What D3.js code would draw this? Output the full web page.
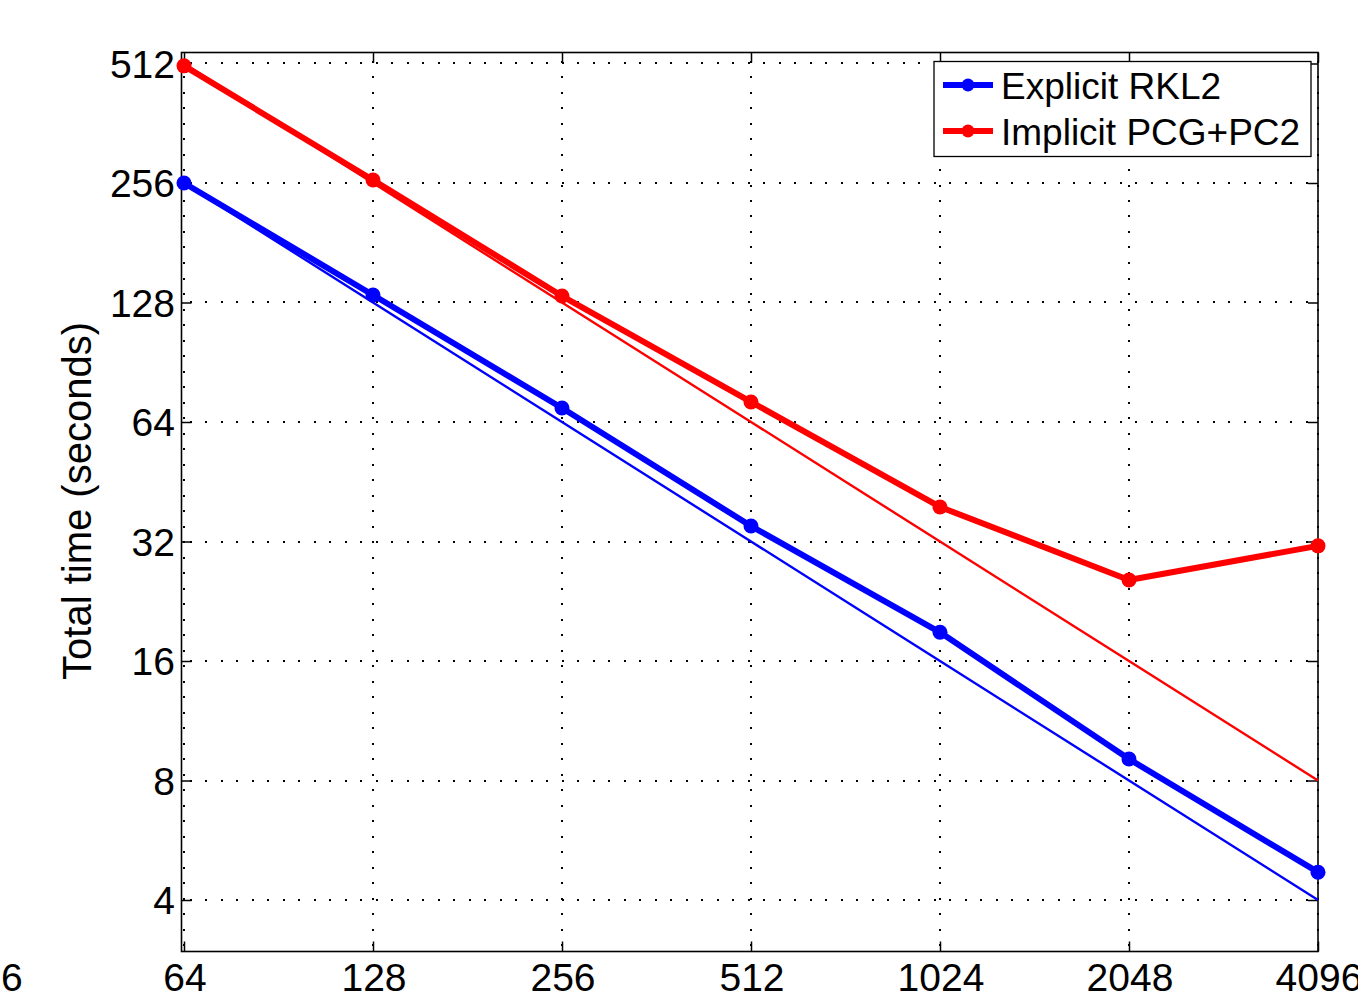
<!DOCTYPE html>
<html>
<head>
<meta charset="utf-8">
<script src="https://cdn.jsdelivr.net/npm/d3@7"></script>
<style>
  html, body { margin: 0; padding: 0; background: #fff; }
  svg { display: block; font-family: "Liberation Sans", Arial, Helvetica, sans-serif; }
</style>
</head>
<body>
<svg id="chart" width="1358" height="999"></svg>
<script>
// ---- data ----
const processors = [64, 128, 256, 512, 1024, 2048, 4096];
const explicitRKL2 = [256, 133.7, 69.4, 35.0, 18.9, 9.06, 4.70];
const implicitPCG = [505, 260.5, 132.9, 71.9, 39.1, 25.6, 31.2];
const idealExplicit = [256, 128, 64, 32, 16, 8, 4];
const idealImplicit = [512, 256, 128, 64, 32, 16, 8];
const xTickValues = [32, 64, 128, 256, 512, 1024, 2048, 4096];
const xTickLabels = ["16", "64", "128", "256", "512", "1024", "2048", "4096"];
const yTickValues = [4, 8, 16, 32, 64, 128, 256, 512];
const yTickLabels = ["4", "8", "16", "32", "64", "128", "256", "512"];
const seriesNames = ["Explicit RKL2", "Implicit PCG+PC2"];
const seriesColors = ["#0000ff", "#ff0000"];

// ---- layout ----
const L = 181.5, R = 1318, T = 52.5, B = 951.5;
const xOct = (R - 184) / 6;
const yOct = (900 - 63.5) / 7;
const x = d3.scaleLog().base(2)
  .domain([64 * Math.pow(2, -(184 - L) / xOct), 4096])
  .range([L, R]);
const y = d3.scaleLog().base(2)
  .domain([4 * Math.pow(2, -(B - 900) / yOct), 512 * Math.pow(2, (63.5 - T) / yOct)])
  .range([B, T]);

const svg = d3.select("#chart");
const fontSize = 39;

// grid
const grid = svg.append("g").attr("shape-rendering", "crispEdges");
grid.selectAll("line.gx").data(processors).enter().append("line")
  .attr("x1", d => Math.round(x(d))).attr("x2", d => Math.round(x(d)))
  .attr("y1", T + 8).attr("y2", B)
  .attr("stroke", "#000").attr("stroke-width", 2)
  .attr("stroke-dasharray", "2,13.5");
grid.selectAll("line.gy").data(yTickValues).enter().append("line")
  .attr("y1", d => Math.round(y(d))).attr("y2", d => Math.round(y(d)))
  .attr("x1", L + 8).attr("x2", R)
  .attr("stroke", "#000").attr("stroke-width", 2)
  .attr("stroke-dasharray", "2,13.5");

// axes (ticks inward on all four sides)
const tickLen = 10;
const axB = d3.axisBottom(x).tickValues(processors).tickSize(-tickLen).tickFormat("");
const axT = d3.axisTop(x).tickValues(processors).tickSize(-tickLen).tickFormat("");
const axL = d3.axisLeft(y).tickValues(yTickValues).tickSize(-tickLen).tickFormat("");
const axR = d3.axisRight(y).tickValues(yTickValues).tickSize(-tickLen).tickFormat("");
[[axB, `translate(0,${B})`], [axT, `translate(0,${T})`], [axL, `translate(${L},0)`], [axR, `translate(${R},0)`]]
  .forEach(([ax, tr]) => {
    const g = svg.append("g").attr("transform", tr).call(ax);
    g.select(".domain").remove();
    g.selectAll("line").attr("stroke", "#000").attr("stroke-width", 1.5);
  });
svg.append("rect").attr("x", L).attr("y", T).attr("width", R - L).attr("height", B - T)
  .attr("fill", "none").attr("stroke", "#000").attr("stroke-width", 1.6);

// tick labels
svg.append("g").selectAll("text").data(xTickValues).enter().append("text")
  .attr("x", (d, i) => x(d) + (d === 32 ? 6 : 1))
  .attr("y", 991)
  .attr("text-anchor", "middle")
  .attr("font-size", fontSize)
  .text((d, i) => xTickLabels[i]);
svg.append("g").selectAll("text").data(yTickValues).enter().append("text")
  .attr("x", 175)
  .attr("y", d => y(d) + 14)
  .attr("text-anchor", "end")
  .attr("font-size", fontSize)
  .text((d, i) => yTickLabels[i]);

// y label
svg.append("text")
  .attr("transform", "translate(91,501) rotate(-90)")
  .attr("text-anchor", "middle")
  .attr("font-size", 40)
  .text("Total time (seconds)");

// lines
const line = d3.line().x(d => x(d[0])).y(d => y(d[1]));
const plot = svg.append("g");
const ideal = [idealExplicit, idealImplicit];
const series = [explicitRKL2, implicitPCG];
ideal.forEach((vals, i) => {
  plot.append("path")
    .attr("d", line(processors.map((p, j) => [p, vals[j]])))
    .attr("fill", "none").attr("stroke", seriesColors[i]).attr("stroke-width", 2.4);
});
series.forEach((vals, i) => {
  const pts = processors.map((p, j) => [p, vals[j]]);
  plot.append("path")
    .attr("d", line(pts))
    .attr("fill", "none").attr("stroke", seriesColors[i]).attr("stroke-width", 6)
    .attr("stroke-linejoin", "round");
  plot.selectAll(null).data(pts).enter().append("circle")
    .attr("cx", d => x(d[0])).attr("cy", d => y(d[1])).attr("r", 7.5)
    .attr("fill", seriesColors[i]);
});

// legend
const lg = svg.append("g");
lg.append("rect").attr("x", 934).attr("y", 61.5).attr("width", 377).attr("height", 95)
  .attr("fill", "#fff").attr("stroke", "#000").attr("stroke-width", 1.3);
const rows = [85, 131];
seriesNames.forEach((name, i) => {
  lg.append("line").attr("x1", 943).attr("x2", 993).attr("y1", rows[i]).attr("y2", rows[i])
    .attr("stroke", seriesColors[i]).attr("stroke-width", 6);
  lg.append("circle").attr("cx", 968).attr("cy", rows[i]).attr("r", 6.5)
    .attr("fill", seriesColors[i]);
  lg.append("text").attr("x", 1001).attr("y", rows[i] + 14)
    .attr("font-size", 37).text(name);
});
</script>
</body>
</html>
